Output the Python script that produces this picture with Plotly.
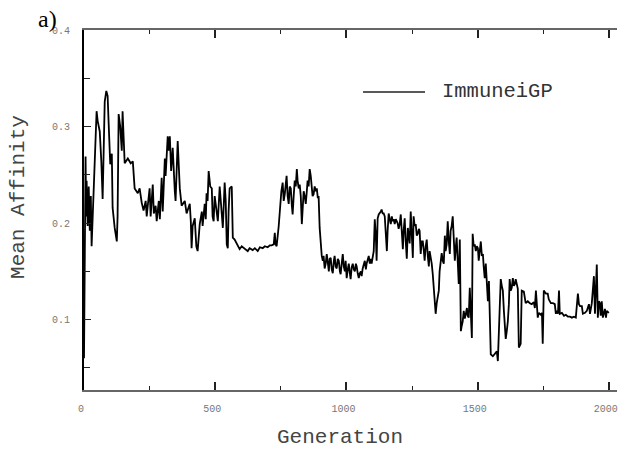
import plotly.graph_objects as go

# Data (generation, mean affinity)
generation = [0, 3, 6, 8, 10, 14, 18, 22, 26, 29, 41, 45, 48, 52, 60, 66, 71, 75, 79, 85,
              90, 94, 100, 106, 109, 117, 125, 128, 132, 138, 144, 147, 151, 155, 167, 178, 186, 193, 205, 212,
              220, 227, 235, 239, 243, 250, 254, 262, 266, 273, 277, 285, 289, 296, 300, 308, 311, 319, 323, 327,
              332, 338, 346, 349, 357, 361, 365, 372, 384, 391, 403, 407, 410, 414, 422, 428, 433, 441, 449, 452,
              460, 464, 467, 471, 475, 481, 487, 490, 494, 498, 506, 510, 517, 521, 525, 529, 536, 540, 544, 548,
              551, 555, 563, 567, 574, 582, 593, 601, 612, 624, 631, 643, 651, 662, 670, 681, 689, 700, 708, 715,
              723, 727, 730, 734, 742, 746, 752, 757, 761, 765, 769, 772, 776, 780, 784, 788, 792, 795, 799, 803,
              807, 811, 814, 818, 822, 826, 830, 833, 837, 841, 845, 849, 852, 856, 860, 864, 868, 871, 875, 879,
              883, 887, 891, 894, 898, 902, 906, 910, 913, 917, 921, 925, 929, 933, 936, 940, 944, 948, 952, 955,
              959, 963, 967, 971, 975, 978, 982, 986, 990, 994, 997, 1001, 1005, 1009, 1013, 1016, 1020, 1024, 1028, 1032,
              1036, 1039, 1043, 1047, 1051, 1055, 1058, 1062, 1070, 1074, 1077, 1081, 1085, 1089, 1093, 1096, 1100, 1104, 1108, 1112,
              1115, 1119, 1123, 1127, 1131, 1134, 1138, 1142, 1146, 1150, 1154, 1157, 1161, 1165, 1169, 1173, 1176, 1180, 1184, 1188,
              1192, 1195, 1199, 1203, 1207, 1211, 1215, 1218, 1222, 1226, 1230, 1234, 1237, 1241, 1245, 1249, 1253, 1256, 1260, 1264,
              1268, 1272, 1276, 1279, 1283, 1287, 1291, 1295, 1298, 1302, 1306, 1310, 1314, 1317, 1321, 1325, 1329, 1333, 1336, 1340,
              1344, 1348, 1352, 1355, 1359, 1363, 1367, 1371, 1375, 1378, 1382, 1386, 1390, 1394, 1397, 1401, 1405, 1409, 1413, 1417,
              1420, 1424, 1428, 1432, 1436, 1439, 1443, 1447, 1451, 1455, 1459, 1462, 1466, 1470, 1474, 1478, 1481, 1485, 1489, 1493,
              1497, 1501, 1504, 1508, 1512, 1516, 1520, 1523, 1527, 1531, 1535, 1539, 1543, 1546, 1550, 1558, 1565, 1573, 1577, 1584,
              1588, 1592, 1596, 1600, 1603, 1607, 1611, 1615, 1619, 1622, 1626, 1630, 1634, 1638, 1642, 1645, 1649, 1653, 1657, 1660,
              1664, 1668, 1676, 1683, 1691, 1699, 1706, 1714, 1718, 1722, 1726, 1729, 1733, 1741, 1745, 1748, 1752, 1760, 1767, 1771,
              1779, 1787, 1794, 1798, 1802, 1806, 1810, 1813, 1821, 1829, 1836, 1844, 1852, 1859, 1867, 1874, 1882, 1886, 1890, 1897,
              1901, 1909, 1916, 1924, 1928, 1935, 1943, 1947, 1954, 1958, 1962, 1966, 1969, 1973, 1977, 1985, 1989, 1992, 2000]

affinity = [0.060, 0.168, 0.269, 0.207, 0.244, 0.197, 0.238, 0.192, 0.228, 0.176, 0.272, 0.285, 0.316, 0.306, 0.295, 0.264, 0.225, 0.275, 0.326, 0.337,
            0.332, 0.303, 0.261, 0.272, 0.216, 0.195, 0.181, 0.207, 0.313, 0.300, 0.275, 0.316, 0.290, 0.262, 0.267, 0.262, 0.264, 0.236, 0.231, 0.236,
            0.221, 0.213, 0.223, 0.207, 0.218, 0.236, 0.207, 0.240, 0.210, 0.218, 0.202, 0.223, 0.204, 0.247, 0.212, 0.267, 0.249, 0.290, 0.275, 0.290,
            0.254, 0.278, 0.233, 0.223, 0.285, 0.259, 0.236, 0.218, 0.223, 0.210, 0.220, 0.202, 0.174, 0.197, 0.205, 0.176, 0.171, 0.199, 0.212, 0.197,
            0.220, 0.204, 0.231, 0.223, 0.254, 0.238, 0.236, 0.207, 0.202, 0.228, 0.209, 0.202, 0.238, 0.223, 0.202, 0.195, 0.242, 0.223, 0.178, 0.174,
            0.212, 0.236, 0.238, 0.185, 0.183, 0.179, 0.173, 0.176, 0.174, 0.171, 0.174, 0.172, 0.174, 0.171, 0.175, 0.174, 0.176, 0.175, 0.177, 0.177,
            0.178, 0.190, 0.178, 0.176, 0.197, 0.212, 0.233, 0.242, 0.223, 0.230, 0.238, 0.249, 0.228, 0.220, 0.238, 0.236, 0.218, 0.209, 0.228, 0.244,
            0.238, 0.256, 0.244, 0.236, 0.240, 0.228, 0.199, 0.218, 0.233, 0.228, 0.220, 0.233, 0.244, 0.238, 0.256, 0.249, 0.240, 0.228, 0.230, 0.238,
            0.233, 0.236, 0.226, 0.228, 0.195, 0.178, 0.166, 0.161, 0.166, 0.153, 0.158, 0.168, 0.156, 0.150, 0.163, 0.164, 0.152, 0.148, 0.161, 0.166,
            0.155, 0.153, 0.163, 0.161, 0.150, 0.147, 0.158, 0.168, 0.155, 0.150, 0.161, 0.143, 0.152, 0.158, 0.148, 0.142, 0.154, 0.158, 0.152, 0.150,
            0.158, 0.155, 0.148, 0.143, 0.148, 0.150, 0.145, 0.153, 0.161, 0.152, 0.158, 0.163, 0.166, 0.158, 0.163, 0.158, 0.166, 0.171, 0.204, 0.187,
            0.161, 0.205, 0.209, 0.210, 0.212, 0.214, 0.210, 0.210, 0.207, 0.189, 0.171, 0.192, 0.210, 0.204, 0.199, 0.207, 0.202, 0.204, 0.199, 0.204,
            0.202, 0.200, 0.194, 0.199, 0.209, 0.192, 0.173, 0.192, 0.205, 0.181, 0.163, 0.195, 0.187, 0.179, 0.212, 0.187, 0.164, 0.207, 0.197, 0.199,
            0.187, 0.189, 0.194, 0.192, 0.168, 0.181, 0.181, 0.171, 0.161, 0.176, 0.183, 0.166, 0.155, 0.171, 0.166, 0.158, 0.147, 0.133, 0.119, 0.106,
            0.117, 0.124, 0.130, 0.150, 0.163, 0.169, 0.161, 0.158, 0.187, 0.171, 0.178, 0.202, 0.181, 0.168, 0.192, 0.197, 0.207, 0.181, 0.161, 0.176,
            0.185, 0.161, 0.137, 0.183, 0.088, 0.093, 0.098, 0.109, 0.101, 0.106, 0.112, 0.104, 0.102, 0.133, 0.109, 0.081, 0.189, 0.176, 0.178, 0.171,
            0.176, 0.174, 0.161, 0.176, 0.181, 0.166, 0.168, 0.155, 0.143, 0.158, 0.135, 0.119, 0.140, 0.088, 0.064, 0.062, 0.064, 0.067, 0.057, 0.112,
            0.142, 0.135, 0.130, 0.109, 0.095, 0.080, 0.088, 0.098, 0.116, 0.142, 0.130, 0.133, 0.143, 0.135, 0.137, 0.142, 0.137, 0.132, 0.071, 0.073,
            0.075, 0.130, 0.129, 0.117, 0.119, 0.117, 0.116, 0.118, 0.112, 0.130, 0.109, 0.102, 0.107, 0.105, 0.107, 0.075, 0.130, 0.127, 0.127, 0.121,
            0.117, 0.117, 0.116, 0.106, 0.109, 0.106, 0.130, 0.106, 0.107, 0.104, 0.105, 0.103, 0.103, 0.102, 0.103, 0.102, 0.127, 0.116, 0.114, 0.114,
            0.106, 0.107, 0.109, 0.116, 0.106, 0.117, 0.145, 0.106, 0.157, 0.102, 0.119, 0.117, 0.104, 0.119, 0.102, 0.111, 0.102, 0.109, 0.107]

series_name = "ImmuneiGP"
x_ticks = [0, 500, 1000, 1500, 2000]
y_ticks = [0.1, 0.2, 0.3, 0.4]

MONO = "Liberation Mono, Courier New, monospace"

fig = go.Figure()
fig.add_trace(go.Scatter(
    x=generation, y=affinity, mode="lines", name=series_name,
    line=dict(color="black", width=1.8), showlegend=False,
))

fig.update_layout(
    width=619, height=450,
    margin=dict(l=84, r=2, t=30, b=60, autoexpand=False),
    paper_bgcolor="white", plot_bgcolor="white",
    xaxis=dict(
        range=[0, 2031], tickvals=x_ticks, ticktext=[str(v) for v in x_ticks],
        ticks="inside", ticklen=8, tickwidth=1.5, tickcolor="#222",
        minor=dict(dtick=250, ticks="inside", ticklen=4, tickwidth=1.2, tickcolor="#222"),
        showline=True, linecolor="#666", linewidth=2, mirror="ticks",
        showgrid=False, zeroline=False, automargin=False,
        tickfont=dict(family=MONO, size=10, color="#777"),
        ticklabelstandoff=8, ticklabeloverflow="allow", ticklabelshift=-3,
    ),
    yaxis=dict(
        range=[0.027, 0.4002], tickvals=y_ticks, ticktext=[f"{v:.1f}" for v in y_ticks],
        ticks="inside", ticklen=7, tickwidth=1.2, tickcolor="#222",
        minor=dict(dtick=0.05, tick0=0, ticks="inside", ticklen=6, tickwidth=1.2, tickcolor="#222"),
        showline=True, linecolor="black", linewidth=2,
        showgrid=False, zeroline=False, automargin=False,
        tickfont=dict(family=MONO, size=10, color="#777"),
        ticklabelstandoff=10, ticklabeloverflow="allow",
    ),
    annotations=[
        dict(text="Generation", xref="paper", yref="paper", x=0.480, y=-0.133,
             xanchor="center", yanchor="middle", showarrow=False,
             font=dict(family=MONO, size=21, color="#444")),
        dict(text="Mean Affinity", xref="paper", yref="paper", x=-0.124, y=0.536,
             xanchor="center", yanchor="middle", textangle=-90, showarrow=False,
             font=dict(family=MONO, size=21, color="#444")),
        dict(text=series_name, xref="paper", yref="paper", x=0.668, y=0.828,
             xanchor="left", yanchor="middle", showarrow=False,
             font=dict(family=MONO, size=20.5, color="#333")),
        dict(text="a)", xref="paper", yref="paper", x=-0.0694, y=1.031,
             xanchor="center", yanchor="middle", showarrow=False,
             font=dict(family="Liberation Serif, Times New Roman, serif", size=24, color="black")),
    ],
    shapes=[
        dict(type="line", xref="paper", yref="paper", x0=0.5235, x1=0.6398, y0=0.828, y1=0.828,
             line=dict(color="#222", width=1.5)),
    ],
)

fig.write_html("out.html")
